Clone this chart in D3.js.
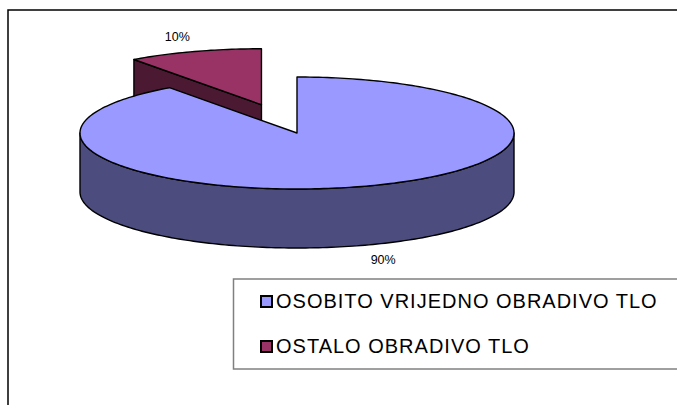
<!DOCTYPE html>
<html lang="hr">
<head>
<meta charset="UTF-8">
<title>Obradivo tlo</title>
<script src="https://d3js.org/d3.v7.min.js"></script>
<style>
    body { margin: 0; background: #fff; overflow: hidden; }
    svg { display: block; font-family: Arial, "Liberation Sans", sans-serif; }
</style>
</head>
<body>
<svg id="chart" width="677" height="405"></svg>
<script>
    const categories = ['OSOBITO VRIJEDNO OBRADIVO TLO', 'OSTALO OBRADIVO TLO'];
    const values = [90, 10];
    const labels = ['90%', '10%'];
    const topColors = ['#9999ff', '#993366'];
    const sideColors = ['#4c4c7f', '#4c1933'];
    const exploded = [0, 0.53];

    const svg = d3.select('#chart');
    const W = 677, H = 405;

    // pie geometry (tilted ellipse)
    const cx = 297, cy = 133, rx = 217, ry = 56, depth = 59;
    const labelR = 1.27;

    // chart frame (runs off the right and bottom edges)
    svg.append('rect')
        .attr('x', 8).attr('y', 10)
        .attr('width', W + 20).attr('height', H + 20)
        .attr('fill', 'none')
        .attr('stroke', '#000')
        .attr('stroke-width', 1.5);

    const pie = d3.pie().sort(null).value(d => d)
        .startAngle(0).endAngle(2 * Math.PI);
    const arcs = pie(values).map((a, i) => {
        const mid = (a.startAngle + a.endAngle) / 2;
        return Object.assign(a, {
            i,
            mid,
            ox: exploded[i] * rx * Math.sin(mid),
            oy: -exploded[i] * ry * Math.cos(mid)
        });
    });

    function pt(d, a, r, z) {
        return [cx + d.ox + rx * r * Math.sin(a), cy + d.oy - ry * r * Math.cos(a) + z];
    }

    function arcPts(d, a0, a1, z) {
        const n = Math.max(2, Math.ceil(Math.abs(a1 - a0) / 0.02));
        return d3.range(n + 1).map(k => pt(d, a0 + (a1 - a0) * k / n, 1, z));
    }

    const line = d3.line();
    const pieG = svg.append('g')
        .attr('stroke', '#000')
        .attr('stroke-width', 1.4)
        .attr('stroke-linejoin', 'round');

    // draw back slices first
    const order = arcs.slice().sort((a, b) => d3.ascending(a.oy, b.oy));

    order.forEach(d => {
        const g = pieG.append('g');

        // radial side faces that turn toward the viewer
        [[d.startAngle, -Math.PI / 2], [d.endAngle, Math.PI / 2]].forEach(([a, n]) => {
            if (Math.cos(a + n) < -1e-6) {
                const c0 = pt(d, a, 0, 0), c1 = pt(d, a, 1, 0);
                g.append('path')
                    .attr('d', line([c0, c1, [c1[0], c1[1] + depth], [c0[0], c0[1] + depth]]) + 'Z')
                    .attr('fill', sideColors[d.i]);
            }
        });

        // outer curved side, front half only
        const s = Math.max(d.startAngle, Math.PI / 2);
        const e = Math.min(d.endAngle, 3 * Math.PI / 2);
        if (e > s) {
            const pts = arcPts(d, s, e, 0).concat(arcPts(d, e, s, depth));
            g.append('path')
                .attr('d', line(pts) + 'Z')
                .attr('fill', sideColors[d.i]);
        }

        // top face
        const top = [pt(d, 0, 0, 0)].concat(arcPts(d, d.startAngle, d.endAngle, 0));
        g.append('path')
            .attr('d', line(top) + 'Z')
            .attr('fill', topColors[d.i]);
    });

    // percentage labels
    svg.append('g')
        .selectAll('text')
        .data(arcs)
        .join('text')
        .attr('x', d => pt(d, d.mid, labelR, 0)[0] + 1)
        .attr('y', d => pt(d, d.mid, labelR, Math.cos(d.mid) < 0 ? depth : 0)[1])
        .attr('text-anchor', 'middle')
        .attr('dominant-baseline', 'central')
        .attr('font-size', 12.5)
        .attr('fill', '#000')
        .text(d => labels[d.i]);

    // legend
    const legend = svg.append('g');
    legend.append('rect')
        .attr('x', 233.5).attr('y', 279)
        .attr('width', 460).attr('height', 90)
        .attr('fill', '#fff')
        .attr('stroke', '#808080')
        .attr('stroke-width', 1.5);

    const item = legend.selectAll('g.item')
        .data(categories)
        .join('g')
        .attr('class', 'item')
        .attr('transform', (d, i) => `translate(261, ${296 + i * 45})`);

    item.append('rect')
        .attr('width', 11).attr('height', 11)
        .attr('fill', (d, i) => topColors[i])
        .attr('stroke', '#000')
        .attr('stroke-width', 2);

    item.append('text')
        .attr('x', 15)
        .attr('y', 12)
        .attr('font-size', 20)
        .attr('letter-spacing', 1)
        .attr('fill', '#000')
        .text(d => d);
</script>
</body>
</html>
